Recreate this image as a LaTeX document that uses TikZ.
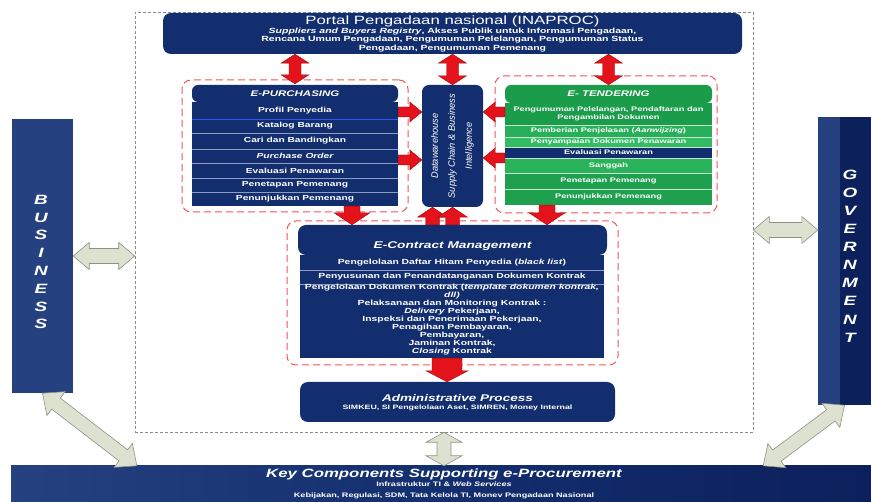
\documentclass[tikz,border=0pt]{standalone}
\usepackage{fontspec}
\setmainfont{Liberation Sans}[FakeStretch=1.4]
\newfontfamily\dwfont{Liberation Sans}
\usetikzlibrary{calc}

\definecolor{navy}{HTML}{132E6E}
\definecolor{navydark}{HTML}{0C205C}
\definecolor{busblue}{HTML}{25417F}
\definecolor{sepcol}{HTML}{8F9CC2}
\definecolor{brightblue}{HTML}{2F55F5}
\definecolor{gA}{HTML}{1A9C4A}
\definecolor{gB}{HTML}{27AF59}
\definecolor{gC}{HTML}{33BC63}
\definecolor{gD}{HTML}{2AB35B}
\definecolor{gE}{HTML}{1FA04F}
\definecolor{reddash}{HTML}{F0555B}
\definecolor{arrowred}{HTML}{E3121B}
\definecolor{arrowdark}{HTML}{A00A0E}
\definecolor{grayfill}{HTML}{DDE1CF}
\definecolor{grayedge}{HTML}{8E9282}
\definecolor{outergray}{HTML}{8A8A8A}

\newcommand\fs[2]{\fontsize{#1}{#2}\selectfont}

% block arrow with two heads: [style]{from}{to}{half shaft}{half head}{head length}
\newcommand\dblarrow[6][]{%
  \draw[#1] let \p1=(#2), \p2=(#3),
      \n1={atan2(\y2-\y1,\x2-\x1)}, \n2={veclen(\x2-\x1,\y2-\y1)} in
    (\p1) -- ++($(\n1:#6)+(\n1+90:#5)$) -- ++(\n1-90:{#5-#4})
    -- ++(\n1:{\n2-2*#6}) -- ++(\n1+90:{#5-#4}) -- (\p2)
    -- ++($(\n1+180:#6)+(\n1-90:#5)$) -- ++(\n1+90:{#5-#4})
    -- ++(\n1+180:{\n2-2*#6}) -- ++(\n1-90:{#5-#4}) -- cycle;}

% block arrow with one head at the end
\newcommand\sglarrow[6][]{%
  \draw[#1] let \p1=(#2), \p2=(#3),
      \n1={atan2(\y2-\y1,\x2-\x1)}, \n2={veclen(\x2-\x1,\y2-\y1)} in
    ($(\p1)+(\n1+90:#4)$) -- ++(\n1:{\n2-#6}) -- ++(\n1+90:{#5-#4}) -- (\p2)
    -- ++($(\n1+180:#6)+(\n1-90:#5)$) -- ++(\n1+90:{#5-#4})
    -- ++(\n1+180:{\n2-#6}) -- cycle;}

\begin{document}
\begin{tikzpicture}[x=1pt,y=1pt,
  box/.style={fill=navy, inner sep=0pt, rounded corners=7pt, text=white},
  row/.style={fill=navy, inner sep=0pt, minimum width=206, text=white,
              font=\bfseries\fs{7.3}{8}},
  trow/.style={inner sep=0pt, minimum width=207, text=white, align=center,
              font=\bfseries\fs{6.6}{8}},
  sep/.style={draw=sepcol, line width=0.5pt},
  tsep/.style={draw=white!75!gA, line width=0.5pt},
  reddashed/.style={draw=reddash, line width=1pt, dash pattern=on 7pt off 4pt,
              rounded corners=9pt, inner sep=0pt},
  redarrow/.style={fill=arrowred, draw=arrowdark, line width=0.4pt},
  grayarrow/.style={fill=grayfill, draw=grayedge, line width=0.6pt},
  txt/.style={text=white, inner sep=0pt, align=center}]

\useasboundingbox (0,0) rectangle (871,-502);
\fill[white] (0,0) rectangle (871,-502);

% frame of the procurement system
\node[draw=outergray, dash pattern=on 3pt off 2pt, line width=0.6pt, inner sep=0pt,
      minimum width=618, minimum height=420] (outer) at (444,-222) {};

% dashed groups
\node[reddashed, minimum width=226, minimum height=132] (epdash) at (295,-146) {};
\node[reddashed, minimum width=222, minimum height=137] (etdash) at (606,-144.5) {};
\node[reddashed, minimum width=331, minimum height=144] (ecdash) at (452.5,-293) {};

% portal
\node[box, rounded corners=8pt, minimum width=579, minimum height=41] (portal) at (452.5,-33.5) {};
\node[txt, font=\fs{12}{12}] at (452.5,-21) {Portal Pengadaan nasional (INAPROC)};
\node[txt, font=\bfseries\fs{7.5}{8.5}] at (452.5,-40) {\textit{Suppliers and Buyers Registry}, Akses Publik untuk Informasi Pengadaan,\\
  Rencana Umum Pengadaan, Pengumuman Pelelangan, Pengumuman Status\\
  Pengadaan, Pengumuman Pemenang};

% e-purchasing
\node[row, minimum height=17] (ep1) at (295,-110.5) {Profil Penyedia};
\node[row, minimum height=14] (ep2) at (295,-126) {Katalog Barang};
\node[row, minimum height=16] (ep3) at (295,-141) {\raisebox{-3pt}{Cari dan Bandingkan}};
\node[row, minimum height=14, font=\bfseries\itshape\fs{7.3}{8}] (ep4) at (295,-156) {Purchase Order};
\node[row, minimum height=15] (ep5) at (295,-170.5) {Evaluasi Penawaran};
\node[row, minimum height=14] (ep6) at (295,-185) {Penetapan Pemenang};
\node[row, minimum height=14] (ep7) at (295,-199) {Penunjukkan Pemenang};
\draw[brightblue, line width=0.8pt] (ep1.south west) -- (ep1.south east);
\foreach \r in {2,...,6} \draw[sep] (ep\r.south west) -- (ep\r.south east);
\node[box, rounded corners=6pt, minimum width=206, minimum height=17,
      font=\bfseries\itshape\fs{8.2}{9}] (ephead) at (295,-93.5) {E-PURCHASING};

% datawarehouse
\node[box, minimum width=61, minimum height=122] (dw) at (452.5,-146) {};
\node[txt, rotate=90, font=\dwfont\itshape\fs{9.3}{17}] at (dw.center)
  {Datawarehouse\\Supply Chain \& Business\\Intelligence};

% e-tendering
\node[trow, fill=gA, minimum height=22] (et1) at (608.5,-114) {Pengumuman Pelelangan, Pendaftaran dan\\Pengambilan Dokumen};
\node[trow, fill=gB, minimum height=12] (et2) at (608.5,-131) {Pemberian Penjelasan (\textit{Aanwijzing})};
\node[trow, fill=gC, minimum height=10] (et3) at (608.5,-142) {Penyampaian Dokumen Penawaran};
\node[trow, fill=navy, minimum height=11] (et4) at (608.5,-152.5) {Evaluasi Penawaran};
\node[trow, fill=gD, minimum height=15] (et5) at (608.5,-165.5) {Sanggah};
\node[trow, fill=gE, minimum height=16] (et6) at (608.5,-181) {Penetapan Pemenang};
\node[trow, fill=gE, minimum height=16] (et7) at (608.5,-197) {Penunjukkan Pemenang};
\foreach \r in {1,...,6} \draw[tsep] (et\r.south west) -- (et\r.south east);
\node[box, fill=gA, rounded corners=6pt, minimum width=207, minimum height=18,
      font=\bfseries\itshape\fs{8.2}{9}] (ethead) at (608.5,-94) {E- TENDERING};

% e-contract management
\node[box, rounded corners=0pt, minimum width=304, minimum height=103] (ecbody) at (452,-306.5) {};
\node[box, rounded corners=8pt, minimum width=309, minimum height=30] (echead) at (452.5,-240) {};
\node[txt, font=\bfseries\itshape\fs{9.8}{10}] at (452.5,-246) {E-Contract Management};
\draw[sep] ($(ecbody.west)+(0,36.5)$) -- ($(ecbody.east)+(0,36.5)$);
\draw[sep] ($(ecbody.west)+(0,22.5)$) -- ($(ecbody.east)+(0,22.5)$);
\node[txt, font=\bfseries\fs{7.4}{8}] at (452,-263) {Pengelolaan Daftar Hitam Penyedia (\textit{black list})};
\node[txt, font=\bfseries\fs{7.4}{8}] at (452,-277) {Penyusunan dan Penandatanganan Dokumen Kontrak};
\node[txt, font=\bfseries\fs{7.4}{7.5}] at (452,-291.5) {Pengelolaan Dokumen Kontrak (\textit{template dokumen kontrak,}\\\textit{dll)}};
\node[txt, font=\bfseries\fs{7.4}{8}] at (452,-328) {Pelaksanaan dan Monitoring Kontrak :\\
  \textit{Delivery} Pekerjaan,\\Inspeksi dan Penerimaan Pekerjaan,\\Penagihan Pembayaran,\\
  Pembayaran,\\Jaminan Kontrak,\\\textit{Closing} Kontrak};

% administrative process
\node[box, rounded corners=8pt, minimum width=315, minimum height=40] (admin) at (457.5,-402) {};
\node[txt, font=\bfseries\itshape\fs{9.7}{10}] at (457.5,-398) {Administrative Process};
\node[txt, font=\bfseries\fs{6.3}{7}] at (457.5,-408) {SIMKEU, SI Pengelolaan Aset, SIMREN, Money Internal};

% business, government, supporting components
\node[fill=busblue, inner sep=0pt, minimum width=61, minimum height=274] (bus) at (42.5,-256) {};
\node[txt, font=\bfseries\itshape\fs{13.5}{17.8}] at (41,-262) {B\\U\\S\\I\\N\\E\\S\\S};
\node[fill=navydark, inner sep=0pt, minimum width=53, minimum height=288] (gov) at (844.5,-261) {};
\fill[busblue] (gov.north west) rectangle ($(gov.south west)+(22,0)$);
\node[txt, font=\bfseries\itshape\fs{13.5}{18.1}] at (850,-256) {G\\O\\V\\E\\R\\N\\M\\E\\N\\T};
\node[inner sep=0pt, left color=busblue, right color=navydark, middle color=navy,
      minimum width=860, minimum height=36] (bar) at (441,-484) {};
\node[txt, font=\bfseries\itshape\fs{12}{12}] at (444,-474) {Key Components Supporting e-Procurement};
\node[txt, font=\bfseries\fs{6.5}{7}] at (444,-484.5) {Infrastruktur TI \& \textit{Web Services}};
\node[txt, font=\bfseries\fs{6.5}{7}] at (444,-496) {Kebijakan, Regulasi, SDM, Tata Kelola TI, Monev Pengadaan Nasional};

% red arrows between the modules
\dblarrow[redarrow]{epdash.north |- portal.south}{$(ephead.north)+(0,1)$}{6}{14}{9}
\dblarrow[redarrow]{dw.north |- portal.south}{dw.north}{6}{14}{9}
\dblarrow[redarrow]{ethead.north |- portal.south}{ethead.north}{6}{14}{9}

\coordinate (dwA) at ($(dw.west)+(0,34)$);
\coordinate (dwB) at ($(dw.west)+(0,-14)$);
\coordinate (dwC) at ($(dw.east)+(0,34)$);
\coordinate (dwD) at ($(dw.east)+(0,-12)$);
\sglarrow[redarrow]{ephead.east |- dwA}{dwA}{5}{10}{12}
\sglarrow[redarrow]{ephead.east |- dwB}{dwB}{5}{10}{12}
\sglarrow[redarrow]{ethead.west |- dwC}{dwC}{5}{10}{12}
\sglarrow[redarrow]{ethead.west |- dwD}{dwD}{5}{10}{12}

\coordinate (epo) at ($(ep7.south)+(57,0)$);
\coordinate (eto) at ($(et7.south)+(-61.5,0)$);
\sglarrow[redarrow]{epo}{epo |- echead.north}{8}{18}{12}
\sglarrow[redarrow]{eto}{eto |- echead.north}{8}{18}{12}

\coordinate (dwL) at ($(dw.south)+(-20,0)$);
\sglarrow[redarrow]{dwL |- echead.north}{dwL}{7}{15}{10}
\sglarrow[redarrow]{dw.south |- echead.north}{dw.south}{7}{15}{10}

\coordinate (eca) at ($(ecbody.south)+(-5,0)$);
\sglarrow[redarrow]{eca}{eca |- admin.north}{15}{21}{11}

% grey arrows linking the actors
\dblarrow[grayarrow]{bus.east}{bus.east -| outer.west}{7.5}{13.5}{16}
\coordinate (gv) at ($(gov.west)+(0,31)$);
\dblarrow[grayarrow]{outer.east |- gv}{gv}{7.5}{13.5}{16}
\dblarrow[grayarrow]{outer.south}{outer.south |- bar.north}{7}{18}{10}
\dblarrow[grayarrow]{bus.south}{$(bar.north west)+(126,0)$}{7}{15}{17}
\dblarrow[grayarrow]{gov.south}{$(bar.north east)+(-108,0)$}{7}{15}{17}

\end{tikzpicture}
\end{document}
